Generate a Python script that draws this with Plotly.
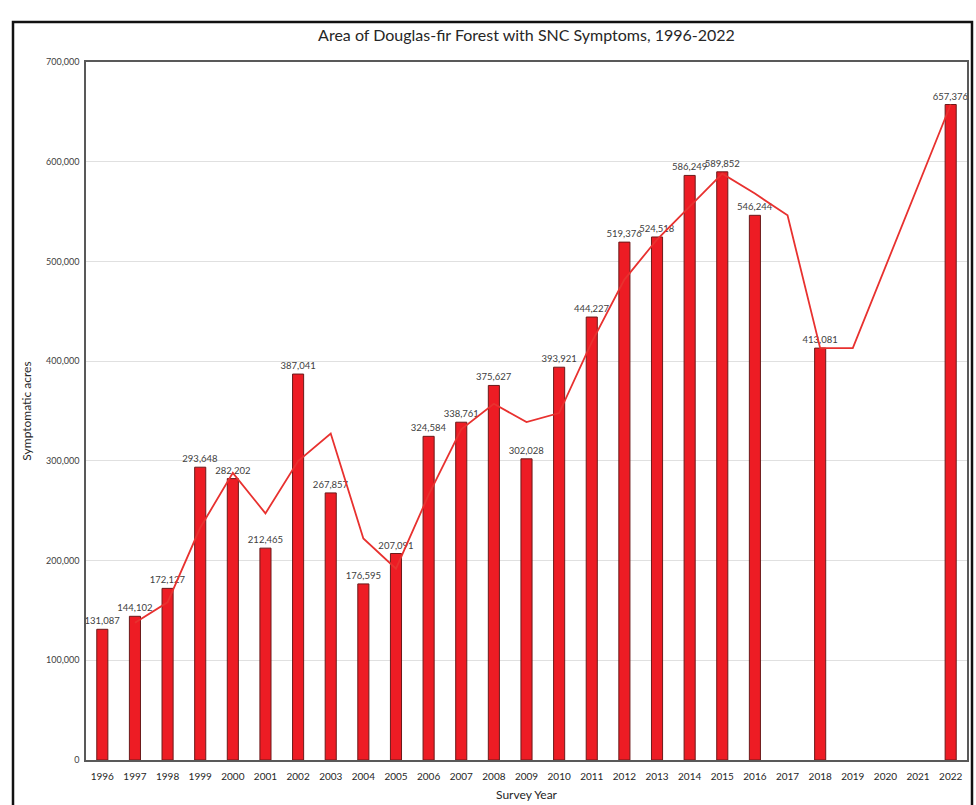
import plotly.graph_objects as go

years = [str(y) for y in range(1996, 2023)]
acres = [131087, 144102, 172127, 293648, 282202, 212465, 387041, 267857, 176595,
         207091, 324584, 338761, 375627, 302028, 393921, 444227, 519376, 524518,
         586249, 589852, 546244, None, 413081, None, None, None, 657376]
# 2-period moving average trendline as drawn in the figure
trend = [None, 137595, 158115, 232888, 287925, 247334, 299753, 327449, 222226,
         191843, 265838, 331673, 357194, 338828, 347975, 419074, 481802, 521947,
         555384, 588051, 568048, 546244, 413081, 413081, None, None, 657376]

title = "Area of Douglas-fir Forest with SNC Symptoms, 1996-2022"
y_title = "Symptomatic acres"
x_title = "Survey Year"

font = "Lato, 'Open Sans', sans-serif"

fig = go.Figure()
fig.add_trace(go.Bar(
    x=years, y=acres,
    marker=dict(color="#ED1C24", line=dict(color="#6b1a1a", width=1)),
    text=[f"{v:,}" if v is not None else "" for v in acres],
    textposition="outside",
    constraintext="none",
    textfont=dict(size=9.5, color="#404040", family=font),
    cliponaxis=False,
    showlegend=False,
))
fig.add_trace(go.Scatter(
    x=years, y=trend, mode="lines", connectgaps=True,
    line=dict(color="#E8312F", width=1.8),
    showlegend=False,
))

L, R, T, B = 86, 9, 62, 45
W, H = 976, 805
pw, ph = W - L - R, H - T - B

def px(x):
    return (x - L) / pw

def py(y):
    return (H - B - y) / ph

fig.update_layout(
    width=W, height=H,
    margin=dict(l=L, r=R, t=T, b=B),
    paper_bgcolor="white", plot_bgcolor="white",
    bargap=0.66,
    font=dict(family=font, color="#404040"),
    title=dict(text=title, x=0.5, xref="paper", y=1 - 35 / H, yanchor="middle",
               font=dict(size=16, color="#262626", family=font)),
    xaxis=dict(type="category", showgrid=False, showline=True, linecolor="#595959",
               linewidth=1.5, mirror=True, ticks="", ticklabelstandoff=6, automargin=False,
               tickfont=dict(size=10, color="#262626"),
               title=dict(text=x_title, font=dict(size=12, color="#262626"), standoff=10)),
    yaxis=dict(range=[0, 700000], dtick=100000, tickformat=",", showgrid=True,
               gridcolor="#e0e0e0", gridwidth=1, showline=True, linecolor="#595959",
               linewidth=1.5, mirror=True, ticks="", zeroline=False, ticklabelstandoff=3,
               automargin=False,
               tickfont=dict(size=9, color="#404040"),
               title=dict(text=y_title, font=dict(size=12, color="#262626"), standoff=12)),
    shapes=[dict(type="rect", xref="paper", yref="paper",
                 x0=px(13), x1=px(972), y0=py(812), y1=py(22),
                 line=dict(color="#111111", width=2.5), fillcolor="rgba(0,0,0,0)",
                 layer="above")],
)

fig.write_html("out.html", config={"displayModeBar": False},
               post_script="document.body.style.margin='0';document.body.style.overflow='hidden';")
